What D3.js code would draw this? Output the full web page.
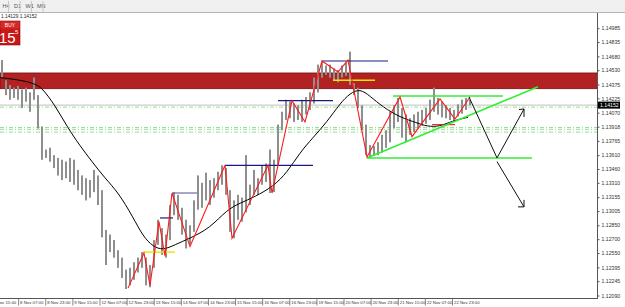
<!DOCTYPE html>
<html>
<head>
<meta charset="utf-8">
<script src="https://cdn.jsdelivr.net/npm/d3@7"></script>
<style>
  body { margin: 0; background: #fff; }
  svg { display: block; font-family: "Liberation Sans", Arial, sans-serif; }
</style>
</head>
<body>
<svg id="chart" width="625" height="307"></svg>
<script>
// price bars (high / low)
const barHigh = [1.1464,1.1442,1.1437,1.1434,1.1436,1.1432,1.1434,1.1429,1.1445,1.1426,
  1.1392,1.1367,1.1369,1.1361,1.1358,1.1356,1.1354,1.1358,1.1356,1.1345,
  1.1339,1.1336,1.1334,1.1345,1.1339,1.1323,1.1280,1.1275,1.1269,1.1258,
  1.1250,1.1237,1.1239,1.1245,1.1250,1.1256,1.1250,1.1242,1.1269,1.1291,
  1.1282,1.1275,1.1307,1.1321,1.1318,1.1304,1.1291,1.1285,1.1312,1.1339,
  1.1331,1.1342,1.1334,1.1336,1.1343,1.1350,1.1347,1.1323,1.1312,1.1318,
  1.1315,1.1361,1.1329,1.1345,1.1336,1.1350,1.1352,1.1367,1.1356,1.1394,
  1.1408,1.1421,1.1419,1.1417,1.1415,1.1421,1.1424,1.1429,1.1445,1.1459,
  1.1462,1.1458,1.1459,1.1455,1.1453,1.1458,1.1461,1.1473,1.1439,1.1434,
  1.1415,1.1394,1.1372,1.1371,1.1375,1.1383,1.1388,1.1408,1.1415,1.1423,
  1.1412,1.1405,1.1401,1.1405,1.1408,1.1410,1.1412,1.1421,1.1434,1.1423,
  1.1419,1.1415,1.1412,1.1410,1.1416,1.1421,1.1423,1.1421];
const barLow = [1.1445,1.1426,1.1421,1.1423,1.1421,1.1412,1.1419,1.1408,1.1421,1.1390,
  1.1356,1.1358,1.1354,1.1347,1.1339,1.1334,1.1336,1.1332,1.1329,1.1323,
  1.1318,1.1312,1.1315,1.1321,1.1307,1.1272,1.1242,1.1256,1.1250,1.1239,
  1.1228,1.1216,1.1220,1.1226,1.1234,1.1239,1.1220,1.1218,1.1239,1.1264,
  1.1253,1.1250,1.1269,1.1296,1.1291,1.1275,1.1260,1.1264,1.1278,1.1302,
  1.1304,1.1312,1.1307,1.1315,1.1323,1.1329,1.1318,1.1278,1.1271,1.1291,
  1.1289,1.1299,1.1307,1.1318,1.1318,1.1329,1.1332,1.1320,1.1321,1.1350,
  1.1388,1.1399,1.1401,1.1397,1.1399,1.1397,1.1405,1.1410,1.1417,1.1429,
  1.1445,1.1448,1.1445,1.1442,1.1440,1.1445,1.1447,1.1437,1.1426,1.1412,
  1.1388,1.1361,1.1358,1.1360,1.1361,1.1364,1.1369,1.1375,1.1390,1.1397,
  1.1380,1.1375,1.1383,1.1386,1.1390,1.1393,1.1395,1.1399,1.1408,1.1405,
  1.1402,1.1401,1.1399,1.1397,1.1403,1.1406,1.1410,1.1415];

// moving average [bar, price]
const maLine = [[-0.5,1.1445],[5.25,1.1442],[8.25,1.1438],[10,1.1434],[13.25,1.1415],
  [16.25,1.1392],[19.5,1.1371],[22.5,1.1354],[25.75,1.1336],[29,1.1321],[32.75,1.1294],
  [35.25,1.1273],[37.75,1.1262],[40.25,1.1258],[43.25,1.1264],[47,1.1271],[52,1.1282],
  [56.25,1.1302],[59.5,1.1309],[63.25,1.1316],[67.75,1.1327],[71.25,1.1342],[74.5,1.1364],
  [77.75,1.1380],[81.25,1.1397],[84.5,1.1417],[87,1.1428],[89.5,1.1433],[92,1.1425],
  [95.25,1.1413],[99.5,1.1402],[103.75,1.1396],[106.25,1.1392],[109.5,1.1392],
  [112.5,1.1398],[116.5,1.1402]];

// red zigzag [bar, price]
const zigzag = [[31.5,1.1217],[35.5,1.1255],[37,1.1220],[39.25,1.1289],[40.75,1.1252],
  [42.5,1.1320],[47,1.1262],[55.75,1.1350],[57.5,1.1271],[66.5,1.1350],[67.5,1.1320],
  [72.5,1.1420],[75.75,1.1397],[80,1.1463],[84,1.1451],[86.5,1.1464],[91.25,1.1359],
  [99.5,1.1424],[102.5,1.1381],[109.5,1.1422],[113.25,1.1400],[117,1.1424]];

// horizontal levels [fromBar, toBar, price]
const navyLevels = [[39.5,42.75,1.1293],[55.75,77.75,1.1350],[69,82.75,1.1420],[80,96.5,1.1463]];
const slateLevels = [[42.5,48.75,1.1320]];
const yellowLevels = [[35.25,43.25,1.1256],[82.75,93.25,1.1442]];
const redLevels = [[107.5,113.25,1.1394]];

// green triangle lines [[bar, price], [bar, price]]
const greenLines = [
  [[97.75,1.1425],[125.25,1.1425]],
  [[91.25,1.1358],[132.5,1.1358]],
  [[91.25,1.1358],[134,1.1435]]
];

// projected path arrows
const arrowUp = [[116.75,1.1424],[123.75,1.1358],[130.5,1.1411]];
const arrowDown = [[123.75,1.1354],[130.5,1.1305]];

// zone and levels
const zoneTop = 1.1450, zoneBottom = 1.1433;
const bidPrice = 1.14152;
const dashLevels = [1.1413, 1.1391, 1.1389, 1.1386];

const priceTicks = [1.14985,1.14835,1.14680,1.14530,1.14375,1.14225,1.14070,1.13918,1.13765,
  1.13610,1.13460,1.13310,1.13155,1.13005,1.12850,1.12700,1.12550,1.12395,1.12245,1.12090];
const timeLabels = ["7 Nov 15:00","8 Nov 07:00","8 Nov 23:00","9 Nov 15:00","12 Nov 07:00",
  "12 Nov 23:00","13 Nov 15:00","14 Nov 07:00","14 Nov 23:00","15 Nov 15:00","16 Nov 07:00",
  "16 Nov 23:00","19 Nov 15:00","20 Nov 07:00","20 Nov 23:00","21 Nov 15:00","22 Nov 07:00",
  "22 Nov 23:00"];
const periods = ["H4","D1","W1","MN"];

const W = 625, H = 307;
const plotRight = 597, plotTop = 13, plotBottom = 298;

const svg = d3.select("#chart");

const x = d3.scaleLinear().domain([0, barHigh.length - 1]).range([2, 470]);
const y = d3.scaleLinear().domain([1.12090, 1.14985]).range([295.5, 28.2]);
const xt = d3.scalePoint().domain(timeLabels).range([-9, 452]);

// toolbar
svg.append("rect").attr("x", 0).attr("y", 0).attr("width", W).attr("height", plotTop - 1)
  .attr("fill", "#f0f0f0");
svg.append("line").attr("x1", 0).attr("x2", W).attr("y1", plotTop - 0.5).attr("y2", plotTop - 0.5)
  .attr("stroke", "#b4b4b4");
periods.forEach((p, i) => {
  svg.append("text").attr("x", 2.5 + i * 11.5).attr("y", 8).attr("font-size", 5.5)
    .attr("fill", "#555").text(p);
  svg.append("line").attr("x1", 8.5 + i * 11.5).attr("x2", 8.5 + i * 11.5)
    .attr("y1", 1).attr("y2", plotTop - 1).attr("stroke", "#c8c8c8");
});

// plot clip
svg.append("clipPath").attr("id", "plot")
  .append("rect").attr("x", 0).attr("y", plotTop).attr("width", plotRight).attr("height", plotBottom - plotTop);
const g = svg.append("g").attr("clip-path", "url(#plot)");

// red zone
g.append("rect")
  .attr("x", 0).attr("width", plotRight + 1)
  .attr("y", y(zoneTop)).attr("height", y(zoneBottom) - y(zoneTop))
  .attr("fill", "#b22222").attr("stroke", "#7a0e0e").attr("stroke-width", 0.8);

// bid line and dash-dot levels
g.append("line").attr("x1", 0).attr("x2", plotRight).attr("y1", y(bidPrice)).attr("y2", y(bidPrice))
  .attr("stroke", "#c0c0c0");
g.selectAll(".lvl").data(dashLevels).join("line")
  .attr("class", "lvl")
  .attr("x1", 0).attr("x2", plotRight)
  .attr("y1", d => y(d)).attr("y2", d => y(d))
  .attr("stroke", "#8fe08f").attr("stroke-dasharray", "4,2,1,2");

// price bars
const bars = g.append("g");
barHigh.forEach((h, i) => {
  bars.append("rect")
    .attr("x", x(i) - 1).attr("width", 2)
    .attr("y", y(h)).attr("height", Math.max(1, y(barLow[i]) - y(h)))
    .attr("fill", "#b4b4b4");
  bars.append("line")
    .attr("x1", x(i)).attr("x2", x(i))
    .attr("y1", y(h)).attr("y2", y(barLow[i]))
    .attr("stroke", "#4a4a4a").attr("stroke-width", 0.7);
});

// moving average
const line = d3.line().x(d => x(d[0])).y(d => y(d[1]));
g.append("path").datum(maLine)
  .attr("fill", "none").attr("stroke", "#000").attr("stroke-width", 1)
  .attr("d", line.curve(d3.curveBasis));

const straight = d3.line().x(d => x(d[0])).y(d => y(d[1]));

function levels(data, color, width) {
  g.append("g").selectAll("line").data(data).join("line")
    .attr("x1", d => x(d[0])).attr("x2", d => x(d[1]))
    .attr("y1", d => y(d[2])).attr("y2", d => y(d[2]))
    .attr("stroke", color).attr("stroke-width", width);
}
levels(navyLevels, "#1a1a80", 1.2);
levels(slateLevels, "#6a6aa8", 1.2);
levels(yellowLevels, "#f2e600", 1.5);
levels(redLevels, "#e01010", 1);

// green lines
g.append("g").selectAll("path").data(greenLines).join("path")
  .attr("fill", "none").attr("stroke", "#33ee33").attr("stroke-width", 1.6)
  .attr("d", straight);

// zigzag
g.append("path").datum(zigzag)
  .attr("fill", "none").attr("stroke", "#ff1a1a").attr("stroke-width", 1.1)
  .attr("d", straight);

// arrows
[arrowUp, arrowDown].forEach((pts, k) => {
  g.append("path").datum(pts)
    .attr("fill", "none").attr("stroke", "#111").attr("stroke-width", 1)
    .attr("d", straight);
  const tip = pts[pts.length - 1];
  const tx = x(tip[0]), ty = y(tip[1]);
  const head = k === 0
    ? [[tx - 5, ty + 0.5], [tx, ty], [tx, ty + 8]]
    : [[tx - 6, ty], [tx, ty], [tx, ty - 7]];
  g.append("path").attr("d", d3.line()(head))
    .attr("fill", "none").attr("stroke", "#111").attr("stroke-width", 1);
});

// frame
svg.append("line").attr("x1", plotRight + 0.5).attr("x2", plotRight + 0.5)
  .attr("y1", plotTop).attr("y2", plotBottom).attr("stroke", "#555");
svg.append("line").attr("x1", 0).attr("x2", plotRight + 1)
  .attr("y1", plotBottom + 0.5).attr("y2", plotBottom + 0.5).attr("stroke", "#555");

// price axis
const yAxis = svg.append("g").attr("transform", `translate(${plotRight + 0.5},0)`)
  .call(d3.axisRight(y).tickValues(priceTicks).tickFormat(d3.format(".5f")).tickSize(2).tickPadding(2));
yAxis.select(".domain").remove();
yAxis.selectAll("text").attr("font-size", 5.2).attr("fill", "#333")
  .attr("font-family", "'Liberation Sans', Arial, sans-serif");
yAxis.selectAll("line").attr("stroke", "#555");

// bid label
svg.append("rect").attr("x", plotRight + 1).attr("y", y(bidPrice) - 3.5)
  .attr("width", 22).attr("height", 7).attr("fill", "#000");
svg.append("text").attr("x", plotRight + 3).attr("y", y(bidPrice) + 2)
  .attr("font-size", 5.2).attr("fill", "#fff").text(d3.format(".5f")(bidPrice));

// time axis
const xAxis = svg.append("g").attr("transform", `translate(0,${plotBottom + 0.5})`)
  .call(d3.axisBottom(xt).tickSize(7).tickPadding(0));
xAxis.select(".domain").remove();
xAxis.selectAll("line").attr("stroke", "#555").attr("stroke-width", 0.7);
xAxis.selectAll("text")
  .attr("text-anchor", "start").attr("x", 1.5).attr("y", 2.4)
  .attr("font-size", 4.3).attr("fill", "#333")
  .attr("font-family", "'Liberation Sans Narrow', 'Liberation Sans', Arial, sans-serif");

// header quote
svg.append("text").attr("x", 1).attr("y", 17.5).attr("font-size", 4.8).attr("fill", "#222")
  .text("1.14129 1.14152");

// BUY button
const btn = svg.append("g");
btn.append("rect").attr("x", 0).attr("y", 21).attr("width", 20).attr("height", 24)
  .attr("fill", "#c81818").attr("stroke", "#8a0a0a").attr("stroke-width", 0.6);
btn.append("rect").attr("x", 0.5).attr("y", 21.5).attr("width", 19).attr("height", 7)
  .attr("fill", "#d42a2a");
btn.append("text").attr("x", 10).attr("y", 27).attr("text-anchor", "middle")
  .attr("font-size", 5).attr("fill", "#fff").text("BUY");
btn.append("text").attr("x", -1).attr("y", 43).attr("font-size", 15)
  .attr("fill", "#fff").text("15");
btn.append("text").attr("x", 15).attr("y", 34).attr("font-size", 6)
  .attr("fill", "#fff").text("5");
</script>
</body>
</html>
